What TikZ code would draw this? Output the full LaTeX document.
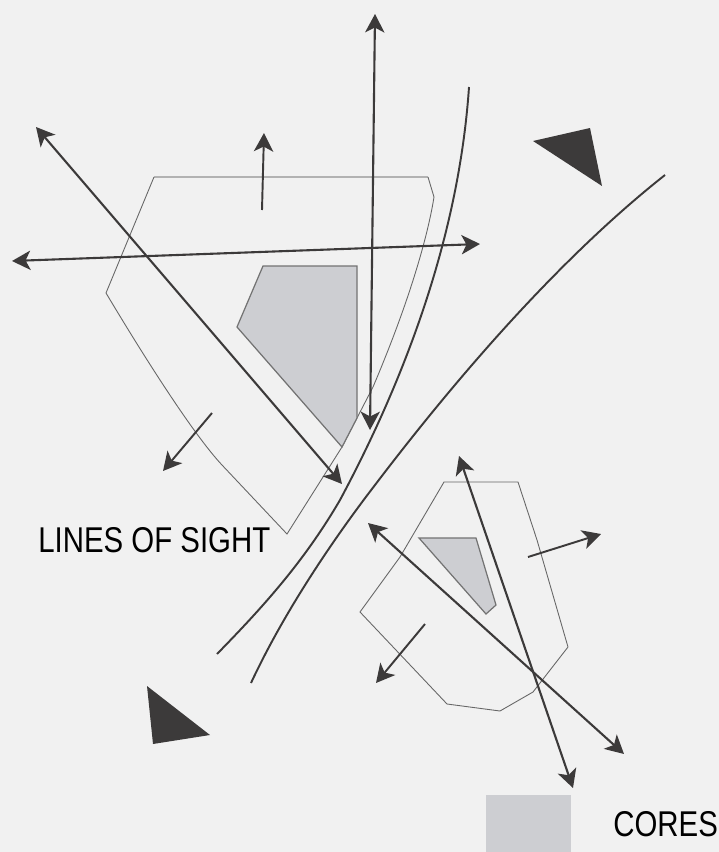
\documentclass[tikz,border=0pt]{standalone}
\usepackage{fontspec}
\setmainfont{Liberation Sans}
\newfontfamily\narrowfont[FakeStretch=0.82]{Liberation Sans}
\usetikzlibrary{arrows.meta}
\definecolor{paper}{HTML}{F1F1F1}
\definecolor{corefill}{HTML}{CDCED2}
\definecolor{ink}{HTML}{3C3A3A}
\tikzset{
  sighttip/.tip={Stealth[length=10.5pt,width=11pt,inset=2.8pt]},
  sight/.style={ink,line width=1.2pt,{sighttip}-{sighttip}},
  motion/.style={ink,line width=1.1pt,-{sighttip}},
  outline/.style={draw=black!60,line width=0.5pt},
  corearea/.style={draw=black!55,line width=0.7pt,fill=corefill},
  front/.style={ink,line width=1.1pt},
  wedge/.style={fill=ink,draw=none},
  caption/.style={font=\narrowfont\fontsize{20.4}{22}\selectfont,inner sep=0pt,text=black}
}
\begin{document}
\begin{tikzpicture}[x=0.02cm,y=-0.02cm]
    \useasboundingbox[fill=paper] (0,0) rectangle (719,852);
    % Upper region
    \draw[outline,draw=black!30,line width=0.6pt] (154,177) -- (428,177);
    \draw[outline] (428,177) -- (434,197) .. controls (428,235) and (410,300) .. (373,387)
        -- (342,447) -- (287,534) -- (222,465) .. controls (192,433) and (140,350) .. (106,293) -- (154,177);
    \draw[corearea] (263,266) -- (357,266) -- (357,418) -- (342,447) -- (237,327) -- cycle;
    % Lower region
    \draw[outline] (444,482) -- (518,482) -- (537,540) -- (568,647) -- (533,692) -- (500,711)
        -- (447,704) -- (360,612) -- (400,557) -- cycle;
    \draw[corearea] (419,538) -- (476,538) -- (496,605) -- (486,614) -- cycle;
    % Fronts
    \draw[front] (469,87) .. controls (460,220) and (415,360) .. (340,500) .. controls (305,560) and (265,605) .. (217,654);
    \draw[front] (665,175) .. controls (570,250) and (470,360) .. (375,485) .. controls (335,537) and (285,610) .. (251,683);
    % Lines of sight
    \draw[sight] (36,127) -- (342,484);
    \draw[sight] (12,261) -- (480,244);
    \draw[sight] (375,14) -- (370,430);
    \draw[sight] (459,456) -- (573,788);
    \draw[sight] (368,523) -- (624,754);
    % Motion arrows
    \draw[motion] (262,210) -- (264,133);
    \draw[motion] (212,413) -- (163,471);
    \draw[motion] (528,557) -- (601,534);
    \draw[motion] (425,624) -- (376,683);
    % Wedges
    \fill[wedge] (533,141) -- (590,128) -- (602,186) -- cycle;
    \fill[wedge] (147,686) -- (210,735) -- (153,744) -- cycle;
    % Legend
    \fill[corefill] (486,795) rectangle (571,852);
    \node[caption,anchor=west] (cores) at (613,824) {CORES};
    \node[caption,anchor=west] (sightlabel) at (38,540) {LINES OF SIGHT};
\end{tikzpicture}
\end{document}
